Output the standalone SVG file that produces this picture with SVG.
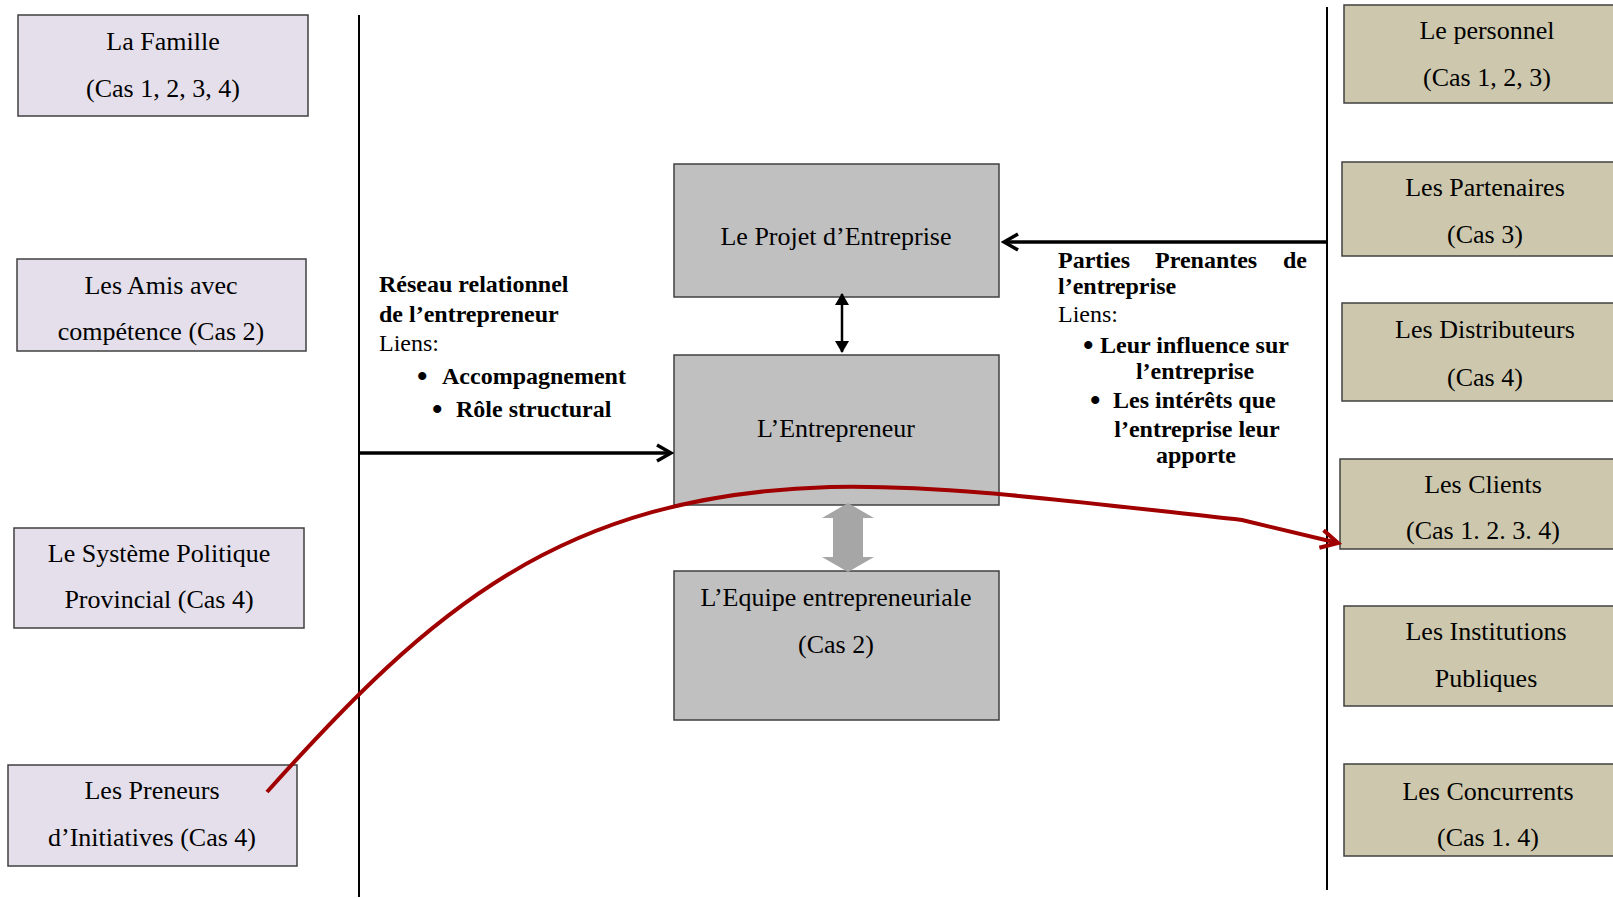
<svg xmlns="http://www.w3.org/2000/svg" width="1613" height="898" viewBox="0 0 1613 898">
<style>
text{font-family:"Liberation Serif","Times New Roman",serif;fill:#000}
.t{font-size:26px;text-anchor:middle}
.b{font-size:24px;font-weight:bold}
.r{font-size:24px}
.bu{font-size:30px;font-weight:bold}
.lb{fill:#E4DFEA;stroke:#404040;stroke-width:1.5}
.rb{fill:#CDC8AD;stroke:#404040;stroke-width:1.5}
.cb{fill:#C0C0C0;stroke:#404040;stroke-width:1.5}
.ln{stroke:#000;stroke-width:2;fill:none}
</style>
<defs>
<marker id="chev" viewBox="0 0 20 20" refX="17" refY="10" markerWidth="20" markerHeight="20" markerUnits="userSpaceOnUse" orient="auto">
<path d="M3,2 L17,10 L3,18" fill="none" stroke="#000" stroke-width="3.5"/>
</marker>
<marker id="chevR" viewBox="0 0 24 24" refX="20" refY="12" markerWidth="24" markerHeight="24" markerUnits="userSpaceOnUse" orient="auto">
<path d="M3,3 L20,12 L3,21" fill="none" stroke="#A00000" stroke-width="4"/>
</marker>
<marker id="tri" viewBox="0 0 12 14" refX="11" refY="7" markerWidth="12" markerHeight="14" markerUnits="userSpaceOnUse" orient="auto-start-reverse">
<path d="M0,0 L12,7 L0,14 Z" fill="#000"/>
</marker>
</defs>

<g id="dividers">
<line class="ln" x1="359" y1="15" x2="359" y2="897"/>
<line class="ln" x1="1327" y1="7" x2="1327" y2="890"/>
</g>

<g id="node-famille"><rect class="lb" x="18" y="15" width="290" height="101"/>
<text class="t" x="163" y="50">La Famille</text><text class="t" x="163" y="97">(Cas 1, 2, 3, 4)</text></g>
<g id="node-amis"><rect class="lb" x="17" y="259" width="289" height="92"/>
<text class="t" x="161" y="294">Les Amis avec</text><text class="t" x="161" y="340">compétence (Cas 2)</text></g>
<g id="node-systeme"><rect class="lb" x="14" y="528" width="290" height="100"/>
<text class="t" x="159" y="562">Le Système Politique</text><text class="t" x="159" y="608">Provincial (Cas 4)</text></g>
<g id="node-preneurs"><rect class="lb" x="8" y="765" width="289" height="101"/>
<text class="t" x="152" y="799">Les Preneurs</text><text class="t" x="152" y="846">d’Initiatives (Cas 4)</text></g>

<g id="node-projet"><rect class="cb" x="674" y="164" width="325" height="133"/>
<text class="t" x="836" y="245">Le Projet d’Entreprise</text></g>
<g id="node-entrepreneur"><rect class="cb" x="674" y="355" width="325" height="150"/>
<text class="t" x="836" y="437">L’Entrepreneur</text></g>
<g id="node-equipe"><rect class="cb" x="674" y="571" width="325" height="149"/>
<text class="t" x="836" y="606">L’Equipe entrepreneuriale</text><text class="t" x="836" y="653">(Cas 2)</text></g>

<g id="node-personnel"><rect class="rb" x="1344" y="5" width="280" height="98"/>
<text class="t" x="1487" y="39">Le personnel</text><text class="t" x="1487" y="86">(Cas 1, 2, 3)</text></g>
<g id="node-partenaires"><rect class="rb" x="1342" y="162" width="280" height="94"/>
<text class="t" x="1485" y="196">Les Partenaires</text><text class="t" x="1485" y="243">(Cas 3)</text></g>
<g id="node-distributeurs"><rect class="rb" x="1342" y="303" width="280" height="98"/>
<text class="t" x="1485" y="338">Les Distributeurs</text><text class="t" x="1485" y="386">(Cas 4)</text></g>
<g id="node-clients"><rect class="rb" x="1340" y="459" width="280" height="90"/>
<text class="t" x="1483" y="493">Les Clients</text><text class="t" x="1483" y="539">(Cas 1. 2. 3. 4)</text></g>
<g id="node-institutions"><rect class="rb" x="1344" y="606" width="280" height="100"/>
<text class="t" x="1486" y="640">Les Institutions</text><text class="t" x="1486" y="687">Publiques</text></g>
<g id="node-concurrents"><rect class="rb" x="1344" y="764" width="280" height="92"/>
<text class="t" x="1488" y="800">Les Concurrents</text><text class="t" x="1488" y="846">(Cas 1. 4)</text></g>

<g id="label-reseau">
<text class="b" x="379" y="292">Réseau relationnel</text>
<text class="b" x="379" y="322">de l’entrepreneur</text>
<text class="r" x="379" y="351">Liens:</text>
<text class="bu" x="417" y="386">•</text><text class="b" x="442" y="384">Accompagnement</text>
<text class="bu" x="432" y="419">•</text><text class="b" x="456" y="417">Rôle structural</text>
</g>
<g id="label-parties">
<text class="b" y="268"><tspan x="1058">Parties</tspan><tspan x="1155">Prenantes</tspan><tspan x="1307" text-anchor="end">de</tspan></text>
<text class="b" x="1058" y="294">l’entreprise</text>
<text class="r" x="1058" y="322">Liens:</text>
<text class="bu" x="1083" y="355">•</text><text class="b" x="1100" y="353">Leur influence sur</text>
<text class="b" x="1195" y="379" text-anchor="middle">l’entreprise</text>
<text class="bu" x="1090" y="410">•</text><text class="b" x="1113" y="408">Les intérêts que</text>
<text class="b" x="1197" y="437" text-anchor="middle">l’entreprise leur</text>
<text class="b" x="1196" y="463" text-anchor="middle">apporte</text>
</g>

<g id="connectors">
<line x1="359" y1="453" x2="671" y2="453" stroke="#000" stroke-width="3.5" marker-end="url(#chev)"/>
<line x1="1327" y1="242" x2="1004" y2="242" stroke="#000" stroke-width="3.5" marker-end="url(#chev)"/>
<line x1="842" y1="294" x2="842" y2="352" stroke="#000" stroke-width="2.5" marker-start="url(#tri)" marker-end="url(#tri)"/>
<path d="M833,518 L822,518 L848,503 L874,518 L863,518 L863,557 L874,557 L848,572 L822,557 L833,557 Z" fill="#A6A6A6"/>
<path d="M267,792 C430,610 560,495 830,487 C950,484 1100,505 1242,520 L1338,543" fill="none" stroke="#A00000" stroke-width="4" marker-end="url(#chevR)"/>
</g>
</svg>
